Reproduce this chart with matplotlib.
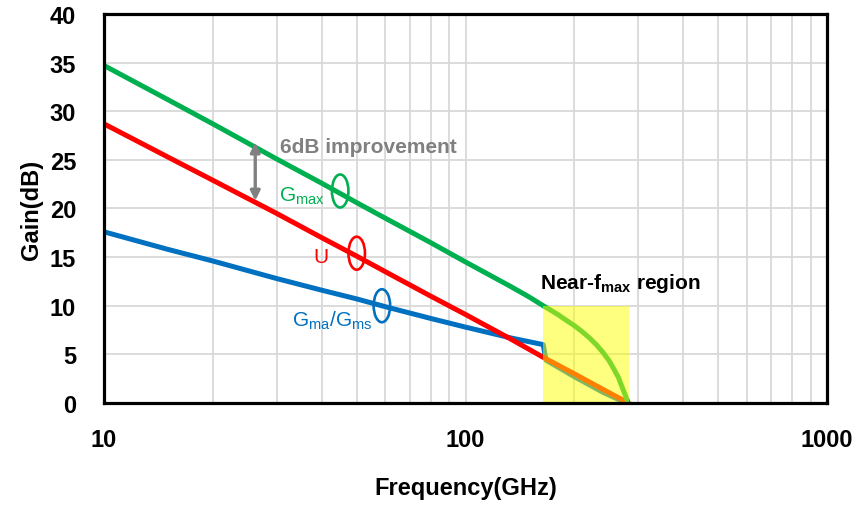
#!/bin/python3

# ---------------------------------------------------------------------------- #
# BRIEF : Gain vs frequency (Gmax, U, Gma/Gms) with the near-fmax region       #
# ---------------------------------------------------------------------------- #

# ---   IMPORTS   --- #
# ------------------- #
import matplotlib
matplotlib.use('Agg')
import matplotlib.pyplot as plt
import matplotlib.ticker as mticker
from matplotlib.patches import Ellipse
from matplotlib.transforms import ScaledTranslation

# ---   DATA   --- #
# ---------------- #
# Gmax (green)
gmax_freq = [10, 15, 20, 30, 40, 50, 60, 80, 100, 120, 133, 150, 164,
             172, 180, 190, 200, 210, 220, 230, 240, 250, 258, 265, 270,
             274, 277, 280, 282]
gmax_gain = [34.7, 31.2, 28.7, 25.1, 22.6, 20.6, 19.0, 16.5, 14.5, 12.9,
             12.0, 10.9, 10.0,
             9.55, 9.1, 8.5, 7.95, 7.35, 6.7, 6.0, 5.2, 4.3, 3.4, 2.6, 1.8,
             1.2, 0.75, 0.3, 0.0]
# U (red)
u_freq = [10, 15, 20, 30, 40, 50, 60, 80, 100, 133, 164, 200, 240, 282, 292]
u_gain = [28.7, 25.3, 22.9, 19.5, 17.0, 15.1, 13.5, 11.0, 9.1, 6.6, 4.7,
          3.0, 1.4, 0.0, -0.4]
# Gma/Gms (blue)
gms_freq = [10, 15, 20, 30, 40, 50, 60, 80, 100, 120, 133, 150, 164,
            167, 200, 240, 282, 292]
gms_gain = [17.6, 15.8, 14.6, 12.8, 11.6, 10.7, 9.9, 8.7, 7.8, 7.1, 6.7,
            6.3, 6.0, 4.4, 2.7, 1.1, -0.1, -0.5]

# Near-fmax region bounds (GHz, dB)
region_freq = [164, 283]
region_gain = [0, 10]

# 6dB improvement arrow (GHz, dB from, dB to)
arrow_freq = 26.2
arrow_gain = [20.8, 26.8]

# ---   CONSTANTS   --- #
# --------------------- #
GREEN = '#00b050'
RED = '#ff0000'
BLUE = '#0070c0'
GRAY = '#808080'
FONT = 'Liberation Sans'
LW = 3.6


# ---   METHODS   --- #
# ------------------- #
def mark_curve(fig, ax, x, y, color):
    # Little open ellipse marking a curve (size in inches)
    trans = fig.dpi_scale_trans + ScaledTranslation(x, y, ax.transData)
    ax.add_patch(Ellipse(
        (0, 0), 0.165, 0.33, transform=trans,
        facecolor='none', edgecolor=color, lw=1.9, zorder=6
    ))


# ---   MAIN   --- #
# ---------------- #
if __name__ == "__main__":
    plt.rcParams['font.family'] = [FONT, 'DejaVu Sans']
    plt.rcParams['mathtext.fontset'] = 'custom'
    plt.rcParams['mathtext.rm'] = FONT
    plt.rcParams['mathtext.bf'] = FONT + ':bold'
    plt.rcParams['mathtext.it'] = FONT + ':italic'

    fig = plt.figure(figsize=(8.59, 5.06), dpi=100)
    ax = fig.add_axes([0.1211, 0.2016, 0.8417, 0.7688])

    # Curves
    style = dict(lw=LW, solid_capstyle='butt', solid_joinstyle='round')
    ax.plot(gms_freq, gms_gain, color=BLUE, zorder=3, **style)
    ax.plot(u_freq, u_gain, color=RED, zorder=4, **style)
    ax.plot(gmax_freq, gmax_gain, color=GREEN, zorder=5, **style)

    # Near-fmax region (translucent yellow over the curves)
    ax.fill_between(region_freq, region_gain[0], region_gain[1],
                    color='#ffff00', alpha=0.5, lw=0, zorder=7)

    # Markers and labels
    mark_curve(fig, ax, 45, 21.8, GREEN)
    mark_curve(fig, ax, 50, 15.4, RED)
    mark_curve(fig, ax, 58.7, 10.0, BLUE)
    ax.text(35.3, 21.3, r'G$_{\mathrm{max}}$', color=GREEN, fontsize=15,
            ha='center', va='center', zorder=8)
    ax.text(39.7, 15.1, 'U', color=RED, fontsize=15,
            ha='center', va='center', zorder=8)
    ax.text(42.8, 8.6, r'G$_{\mathrm{ma}}$/G$_{\mathrm{ms}}$', color=BLUE,
            fontsize=15, ha='center', va='center', zorder=8)
    ax.text(54, 26.4, '6dB improvement', color=GRAY, fontsize=15,
            fontweight='bold', ha='center', va='center', zorder=8)
    ax.text(160.7, 12.4, r'Near-f$_{\mathbf{max}}$ region', color='black',
            fontsize=15, fontweight='bold', ha='left', va='center', zorder=8)
    ax.annotate(
        '', xy=(arrow_freq, arrow_gain[1]), xytext=(arrow_freq, arrow_gain[0]),
        arrowprops=dict(arrowstyle='<|-|>', color=GRAY, lw=2.4,
                        mutation_scale=14, shrinkA=0, shrinkB=0),
        zorder=8
    )

    # Axes format
    ax.set_xscale('log')
    ax.set_xlim(10, 1000)
    ax.set_ylim(0, 40)
    ax.set_yticks(range(0, 41, 5))
    ax.xaxis.set_major_locator(mticker.FixedLocator([10, 100, 1000]))
    ax.xaxis.set_major_formatter(mticker.FixedFormatter(['10', '100', '1000']))
    ax.xaxis.set_minor_locator(mticker.LogLocator(base=10, subs=range(2, 10)))
    ax.xaxis.set_minor_formatter(mticker.NullFormatter())
    ax.grid(which='both', axis='x', color='#d9d9d9', lw=1.3)
    ax.grid(which='major', axis='y', color='#d9d9d9', lw=1.3)
    ax.set_axisbelow(True)
    ax.tick_params(axis='both', which='both', length=0, labelsize=17)
    ax.tick_params(axis='y', pad=20)
    ax.tick_params(axis='x', pad=18)
    for lbl in ax.get_xticklabels() + ax.get_yticklabels():
        lbl.set_fontweight('bold')
    for sp in ax.spines.values():
        sp.set_linewidth(2.3)
        sp.set_color('black')
        sp.set_zorder(9)

    ax.set_xlabel('Frequency(GHz)', fontsize=17, fontweight='bold')
    ax.set_ylabel('Gain(dB)', fontsize=17, fontweight='bold')
    ax.xaxis.set_label_coords(0.5, -0.187)
    ax.yaxis.set_label_coords(-0.085, 0.5)

    plt.savefig('out.png', dpi=100)
